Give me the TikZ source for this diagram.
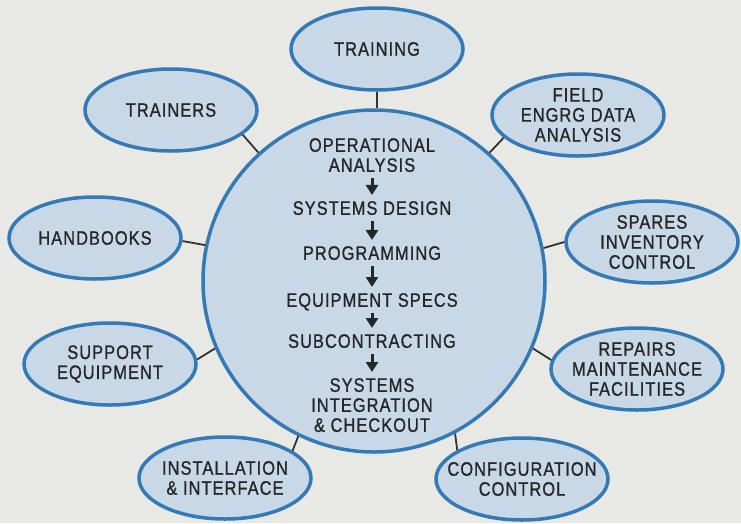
\documentclass[tikz,border=0pt]{standalone}
\usepackage{fontspec}
\setmainfont{Liberation Sans}[FakeStretch=0.84,FakeBold=1,LetterSpace=5.5]
\usetikzlibrary{shapes.geometric,arrows.meta}
\definecolor{bg}{RGB}{232,232,229}
\definecolor{fillb}{RGB}{200,216,230}
\definecolor{edgeb}{RGB}{52,122,182}
\definecolor{ink}{RGB}{38,38,38}
\begin{document}
\begin{tikzpicture}[x=1pt,y=-1pt,font=\fontsize{19.5}{20}\selectfont,text=ink,
  bub/.style={ellipse,draw=edgeb,fill=fillb,line width=3.5pt,minimum width=172pt,minimum height=82pt,inner sep=0pt,inner xsep=-16pt,align=center},
  hub/.style={circle,draw=edgeb,fill=fillb,line width=3.5pt,minimum size=342pt,inner sep=0pt},
  lnk/.style={draw=black!80,line width=1.8pt},
  stage/.style={align=center,inner sep=1pt,text depth=0pt},
  flow/.style={-{Triangle[width=12pt,length=10pt]},line width=3pt,draw=ink,shorten <=5pt,shorten >=5pt}]
\fill[bg] (0,0) rectangle (741,523);
\useasboundingbox (0,0) rectangle (741,523);
\node[hub] (main) at (374,281) {};
\node[bub] (training) at (377,49) {TRAINING};
\node[bub] (trainers) at (171,110) {TRAINERS};
\node[bub] (field) at (578,115) {FIELD\\ENGRG DATA\\ANALYSIS};
\node[bub] (handbooks) at (95,238) {HANDBOOKS};
\node[bub] (spares) at (652,242) {SPARES\\INVENTORY\\CONTROL};
\node[bub] (support) at (110,364) {SUPPORT\\EQUIPMENT};
\node[bub] (repairs) at (637,369) {REPAIRS\\MAINTENANCE\\FACILITIES};
\node[bub] (install) at (225,478) {INSTALLATION\\\& INTERFACE};
\node[bub] (config) at (522,479) {CONFIGURATION\\CONTROL};
\draw[lnk] (training.south) -- (training.south |- main.north);
\draw[lnk] (main.132) -- (trainers.-19);
\draw[lnk] (main.48) -- (field.-163);
\draw[lnk] (main.168.5) -- (handbooks.-2.6);
\draw[lnk] (main.11.4) -- (spares.180);
\draw[lnk] (main.203) -- (support.3.4);
\draw[lnk] (main.-23.7) -- (repairs.174);
\draw[lnk] (main.-116) -- (install.22);
\draw[lnk] (main.-62.5) -- (config.156);
\node[stage] (op) at (372,155) {OPERATIONAL\\ANALYSIS};
\node[stage] (sd) at (372,208) {SYSTEMS DESIGN};
\node[stage] (prog) at (372,253) {PROGRAMMING};
\node[stage] (eq) at (372,300) {EQUIPMENT SPECS};
\node[stage] (sub) at (372,341) {SUBCONTRACTING};
\node[stage] (sit) at (372,405) {SYSTEMS\\INTEGRATION\\\& CHECKOUT};
\draw[flow] (op) -- (sd);
\draw[flow] (sd) -- (prog);
\draw[flow] (prog) -- (eq);
\draw[flow] (eq) -- (sub);
\draw[flow] (sub) -- (sit);
\end{tikzpicture}
\end{document}
